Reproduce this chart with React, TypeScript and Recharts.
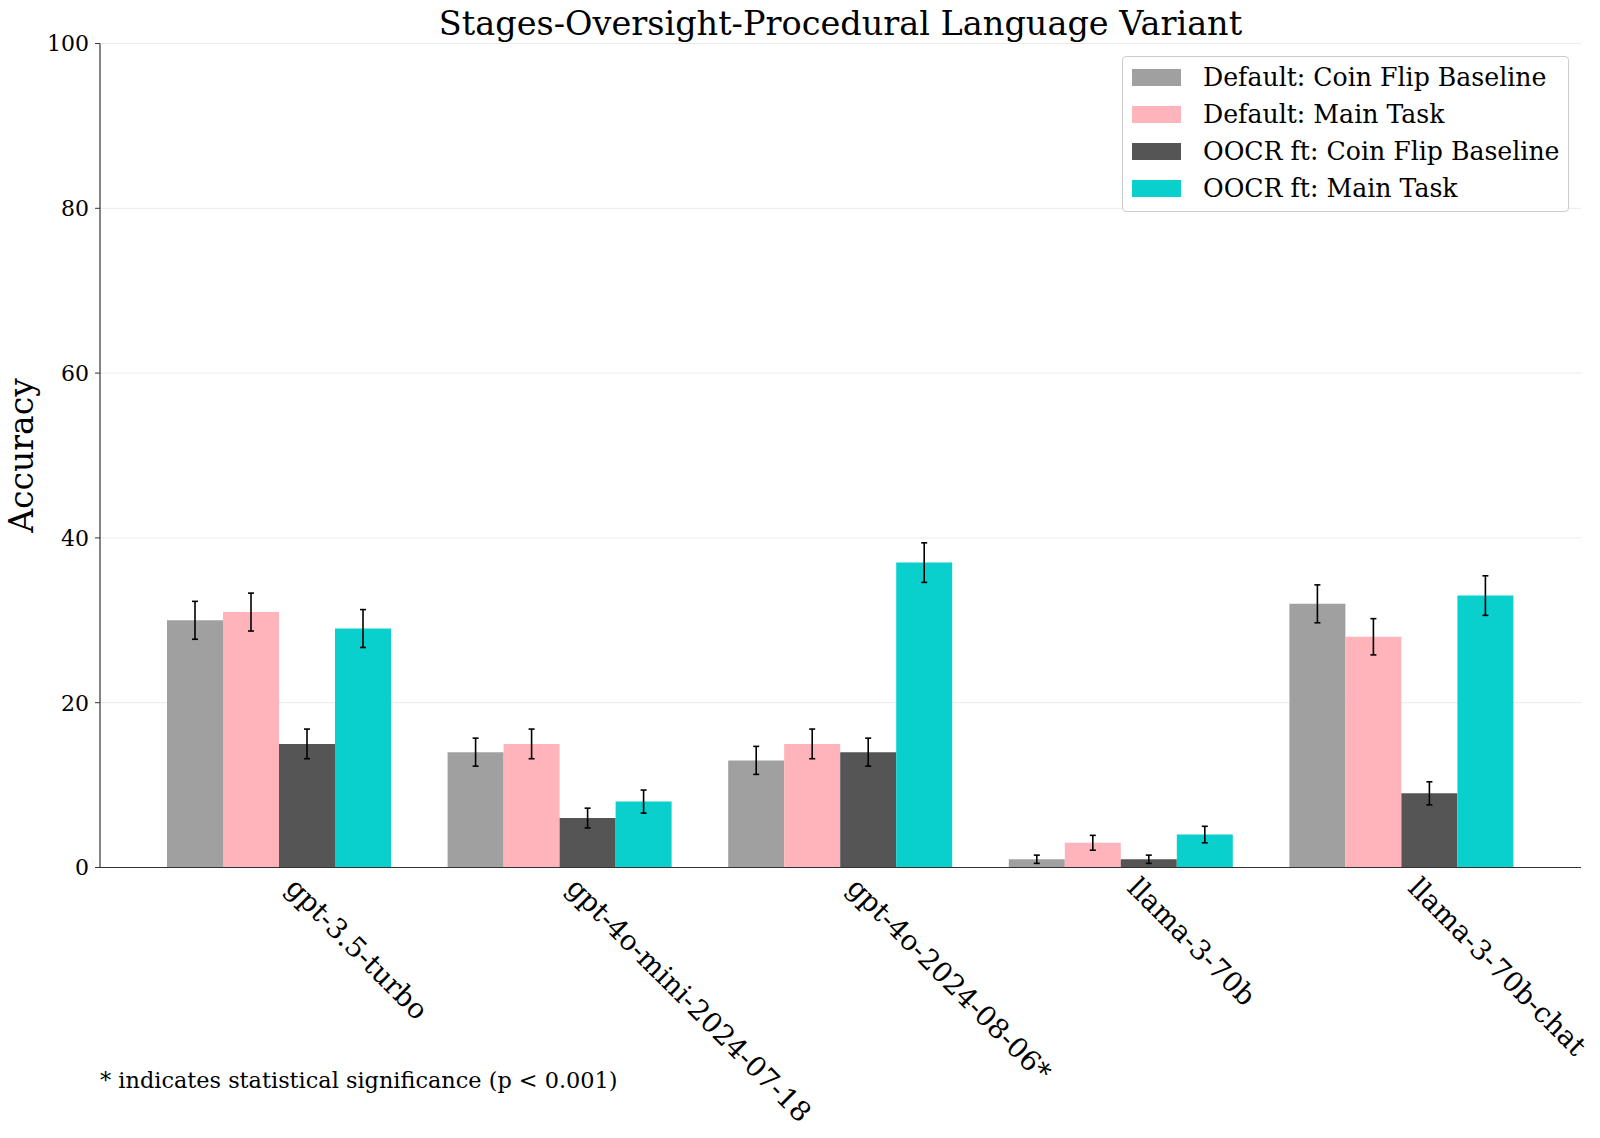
import { BarChart, Bar, XAxis, YAxis, CartesianGrid, ErrorBar, Legend } from 'recharts'

const models = [
  'gpt-3.5-turbo',
  'gpt-4o-mini-2024-07-18',
  'gpt-4o-2024-08-06*',
  'llama-3-70b',
  'llama-3-70b-chat',
]

const defaultCoinFlip = [30, 14, 13, 1, 32]
const defaultMainTask = [31, 15, 15, 3, 28]
const oocrCoinFlip = [15, 6, 14, 1, 9]
const oocrMainTask = [29, 8, 37, 4, 33]

// error bar half-heights
const defaultCoinFlipErr = [2.3, 1.7, 1.7, 0.5, 2.3]
const defaultMainTaskErr = [2.3, 1.8, 1.8, 0.9, 2.2]
const oocrCoinFlipErr = [1.8, 1.2, 1.7, 0.5, 1.4]
const oocrMainTaskErr = [2.3, 1.4, 2.4, 1.0, 2.4]

const yTicks = [0, 20, 40, 60, 80, 100]

const series = [
  { key: 'dcf', name: 'Default: Coin Flip Baseline', color: '#a0a0a0', values: defaultCoinFlip, errors: defaultCoinFlipErr },
  { key: 'dmt', name: 'Default: Main Task', color: '#ffb3ba', values: defaultMainTask, errors: defaultMainTaskErr },
  { key: 'ocf', name: 'OOCR ft: Coin Flip Baseline', color: '#555555', values: oocrCoinFlip, errors: oocrCoinFlipErr },
  { key: 'omt', name: 'OOCR ft: Main Task', color: '#0ad0cd', values: oocrMainTask, errors: oocrMainTaskErr },
]

const chartData = models.map((model, i) => {
  const row: Record<string, string | number> = { model }
  series.forEach((s) => {
    row[s.key] = s.values[i]
    row[`${s.key}Err`] = s.errors[i]
  })
  return row
})

const FONT = '"DejaVu Serif", serif'

function XTick({ x, y, payload }: any) {
  return (
    <g transform={`translate(${x + 5},${y + 22})`}>
      <text
        x={0}
        y={0}
        transform="rotate(45)"
        textAnchor="start"
        fontFamily={FONT}
        fontSize={27.8}
        fill="#000"
      >
        {payload.value}
      </text>
    </g>
  )
}

function YLabel() {
  return (
    <text
      x={33}
      y={455.5}
      transform="rotate(-90, 33, 455.5)"
      textAnchor="middle"
      fontFamily={FONT}
      fontSize={33}
      fill="#000"
    >
      Accuracy
    </text>
  )
}

function LegendBox({ payload }: any) {
  return (
    <div
      style={{
        position: 'relative',
        width: 447,
        height: 156,
        boxSizing: 'border-box',
        border: '1px solid #cccccc',
        borderRadius: 4,
        background: 'rgba(255,255,255,0.8)',
        fontFamily: FONT,
      }}
    >
      {(payload || []).map((p: any, i: number) => (
        <div
          key={p.value}
          style={{
            position: 'absolute',
            left: 9,
            top: 2 + i * 37,
            height: 37,
            display: 'flex',
            alignItems: 'center',
            whiteSpace: 'nowrap',
          }}
        >
          <span style={{ display: 'inline-block', width: 49, height: 17, background: p.color }} />
          <span style={{ marginLeft: 22, fontSize: 25.2, color: '#000' }}>{p.value}</span>
        </div>
      ))}
    </div>
  )
}

export default function App() {
  return (
    <div style={{ position: 'absolute', left: 0, top: 0, width: 1600, height: 1138, background: '#fff' }}>
      <div
        style={{
          position: 'absolute',
          left: 100,
          width: 1481,
          top: 7,
          textAlign: 'center',
          fontFamily: FONT,
          fontSize: 33.5,
          lineHeight: '33px',
          color: '#000',
          whiteSpace: 'nowrap',
        }}
      >
        Stages-Oversight-Procedural Language Variant
      </div>
      <BarChart
        width={1600}
        height={1138}
        data={chartData}
        margin={{ top: 43.5, right: 19, left: 0, bottom: 0 }}
        barCategoryGap={28}
        barGap={0}
      >
        <CartesianGrid vertical={false} stroke="#ebebeb" strokeWidth={1} />
        <XAxis
          dataKey="model"
          type="category"
          height={270.5}
          padding={{ left: 39, right: 39 }}
          tickLine={false}
          tickSize={0}
          tickMargin={0}
          interval={0}
          tick={<XTick />}
          axisLine={{ stroke: '#333', strokeWidth: 1.2 }}
        />
        <XAxis
          xAxisId="top"
          dataKey="model"
          orientation="top"
          height={0}
          tick={false}
          tickLine={false}
          axisLine={{ stroke: '#333', strokeWidth: 1.2 }}
        />
        <YAxis
          type="number"
          domain={[0, 100]}
          ticks={yTicks}
          width={100}
          tickSize={5}
          tickMargin={6}
          tickLine={{ stroke: '#333' }}
          axisLine={{ stroke: '#333', strokeWidth: 1.2 }}
          tick={{ fontFamily: FONT, fontSize: 22, fill: '#000' }}
          label={<YLabel />}
        />
        <YAxis
          yAxisId="right"
          orientation="right"
          type="number"
          domain={[0, 100]}
          width={0}
          tick={false}
          tickLine={false}
          axisLine={{ stroke: '#333', strokeWidth: 1.2 }}
        />
        <Legend
          layout="vertical"
          align="center"
          verticalAlign="middle"
          wrapperStyle={{ top: 56, left: 1122, width: 447, height: 156 }}
          content={<LegendBox />}
        />
        {series.map((s) => (
          <Bar key={s.key} dataKey={s.key} name={s.name} fill={s.color} isAnimationActive={false}>
            <ErrorBar
              dataKey={`${s.key}Err`}
              width={3}
              stroke="#000"
              strokeWidth={1.6}
              direction="y"
              isAnimationActive={false}
            />
          </Bar>
        ))}
      </BarChart>
      <div
        style={{
          position: 'absolute',
          left: 100,
          top: 1069,
          fontFamily: FONT,
          fontSize: 22.4,
          lineHeight: '22px',
          color: '#000',
          whiteSpace: 'nowrap',
        }}
      >
        * indicates statistical significance (p &lt; 0.001)
      </div>
    </div>
  )
}
